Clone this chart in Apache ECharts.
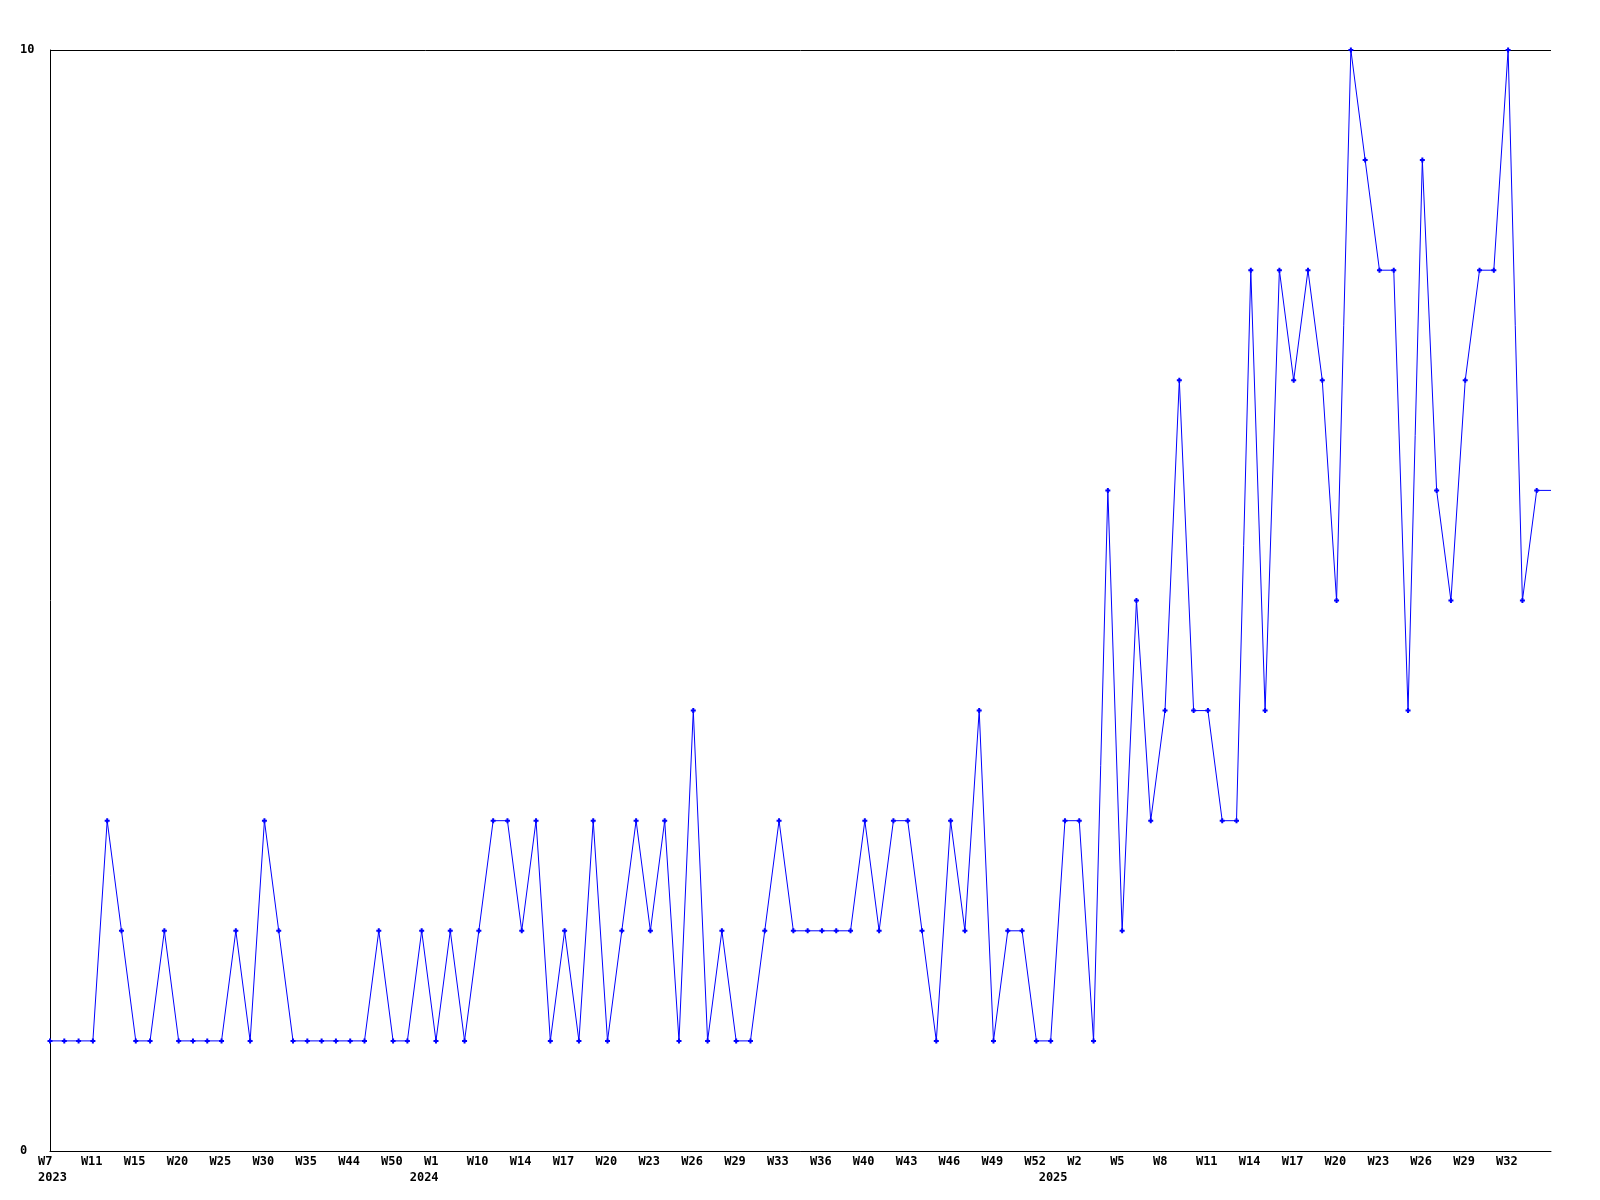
<!DOCTYPE html>
<html>
<head>
<meta charset="utf-8">
<script src="https://cdn.jsdelivr.net/npm/echarts@6/dist/echarts.min.js"></script>
<style>html,body{margin:0;padding:0;background:#fff}#c{width:1600px;height:1200px}</style>
</head>
<body>
<div id="c"></div>
<script>
// Week labels per year (category axis)
const weeks2023 = ['W7','W8','W10','W11','W12','W14','W15','W17','W18','W20','W22','W23','W25','W27','W28','W30','W32','W33','W35','W37','W40','W44','W47','W48','W50','W52'];
const weeks2024 = ['W0','W1','W4','W7','W10','W12','W13','W14','W15','W16','W17','W18','W19','W20','W21','W22','W23','W24','W25','W26','W27','W28','W29','W30','W32','W33','W34','W35','W36','W37','W39','W40','W41','W42','W43','W44','W45','W46','W47','W48','W49','W50','W51','W52'];
const weeks2025 = ['W0','W1','W2','W3','W4','W5','W6','W7','W8','W9','W10','W11','W12','W13','W14','W15','W16','W17','W18','W19','W20','W21','W22','W23','W24','W25','W26','W27','W28','W29','W30','W31','W32','W33','W34','W35'];
const years = [2023, 2024, 2025];

// Series values
const values = [
  1,1,1,1,3,2,1,1,2,1,1,1,1,2,1,3,2,1,1,1,1,1,1,2,1,1,
  2,1,2,1,2,3,3,2,3,1,2,1,3,1,2,3,2,3,1,4,1,2,1,1,2,3,2,2,2,2,2,3,2,3,3,2,1,3,2,4,1,2,2,1,
  1,3,3,1,6,2,5,3,4,7,4,4,3,3,8,4,8,7,8,7,5,10,9,8,8,4,9,6,5,7,8,8,10,5,6,6
];

// Y axis ticks
const yMin = 0, yMax = 10;

const categories = [];
const yearStart = {};
[weeks2023, weeks2024, weeks2025].forEach((ws, k) => {
  yearStart[categories.length] = years[k];
  ws.forEach(w => categories.push(years[k] + '-' + w));
});
const lastIdx = categories.length - 1;

const FONT = 'DejaVu Sans Mono';
const chart = echarts.init(document.getElementById('c'), null, {renderer: 'canvas'});
chart.setOption({
  animation: false,
  backgroundColor: '#ffffff',
  grid: {left: 50, right: 49, top: 50, bottom: 49, containLabel: false, outerBoundsMode: 'none'},
  xAxis: {
    type: 'category',
    data: categories,
    boundaryGap: false,
    axisLine: {show: true, lineStyle: {color: '#000', width: 1}},
    axisTick: {show: false},
    splitLine: {show: false},
    axisLabel: {
      interval: (idx) => (idx % 3 === 0 && idx !== lastIdx) || yearStart[idx] !== undefined,
      margin: 3,
      align: 'center',
      formatter: (val, idx) => {
        const wk = String(val).split('-')[1];
        let s = '{w|' + (idx % 3 === 0 ? wk : ' ') + '}';
        if (yearStart[idx] !== undefined) s += '\n{w|' + yearStart[idx] + '}';
        return s;
      },
      rich: {
        w: {width: 24, align: 'left', fontFamily: FONT, fontSize: 12, fontWeight: 'bold', lineHeight: 16, color: '#000'}
      }
    }
  },
  yAxis: {
    type: 'value',
    min: yMin,
    max: yMax,
    interval: 10,
    axisLine: {show: true, lineStyle: {color: '#000', width: 1}},
    axisTick: {show: false},
    splitLine: {show: true, lineStyle: {color: '#000', width: 1}},
    axisLabel: {align: 'left', margin: 30, fontFamily: FONT, fontSize: 12, fontWeight: 'bold', color: '#000'}
  },
  series: [{
    type: 'line',
    data: values.map((v, i) => i === lastIdx ? {value: v, symbol: 'none'} : v),
    showAllSymbol: true,
    symbol: 'path://M1.5,0H3.5V1.5H5V3.5H3.5V5H1.5V3.5H0V1.5H1.5Z',
    symbolSize: 5,
    lineStyle: {color: '#0000ff', width: 1},
    itemStyle: {color: '#0000ff'},
    emphasis: {disabled: true}
  }]
});
</script>
</body>
</html>
